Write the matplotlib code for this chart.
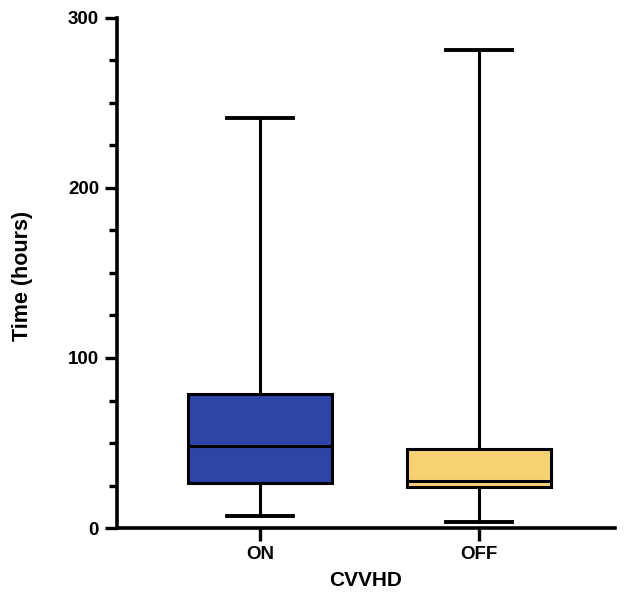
import matplotlib
matplotlib.use("Agg")
import matplotlib.pyplot as plt
from matplotlib.ticker import MultipleLocator

categories = ["ON", "OFF"]
whislo = [7.0, 3.7]
q1 = [26.6, 23.9]
med = [48.2, 27.8]
q3 = [78.6, 46.3]
whishi = [241.0, 281.0]
colors = ["#2E45A8", "#F8D272"]

plt.rcParams['font.family'] = ['Liberation Sans', 'DejaVu Sans']

fig = plt.figure(figsize=(6.3, 5.96), dpi=100)
ax = fig.add_axes([0.186, 0.114, 0.79, 0.856])

stats = [dict(label=c, whislo=a, q1=b, med=m, q3=d, whishi=e, fliers=[])
         for c, a, b, m, d, e in zip(categories, whislo, q1, med, q3, whishi)]
bp = ax.bxp(stats, positions=[0, 1], widths=0.66, patch_artist=True,
            showfliers=False,
            boxprops=dict(linewidth=2.2, edgecolor="black"),
            medianprops=dict(color="black", linewidth=2.2),
            whiskerprops=dict(color="black", linewidth=2.2),
            capprops=dict(color="black", linewidth=2.8), capwidths=0.3)
for patch, c in zip(bp['boxes'], colors):
    patch.set_facecolor(c)

ax.set_xlim(-0.653, 1.62)
ax.set_ylim(0, 300)
ax.yaxis.set_major_locator(MultipleLocator(100))
ax.yaxis.set_minor_locator(MultipleLocator(25))
for s in ["top", "right"]:
    ax.spines[s].set_visible(False)
for s in ["left", "bottom"]:
    ax.spines[s].set_linewidth(2.6)
ax.tick_params(axis='both', which='major', width=2.4, length=9, labelsize=13.5, pad=4)
ax.tick_params(axis='y', which='minor', width=2.4, length=5.5)
for lbl in ax.get_xticklabels() + ax.get_yticklabels():
    lbl.set_fontweight('bold')
ax.set_xlabel("CVVHD", fontsize=15, fontweight='bold')
ax.set_ylabel("Time (hours)", fontsize=15.5, fontweight='bold')
ax.xaxis.set_label_coords(0.5, -0.084)
ax.yaxis.set_label_coords(-0.169, 0.494)

fig.savefig("out.png", dpi=100)
